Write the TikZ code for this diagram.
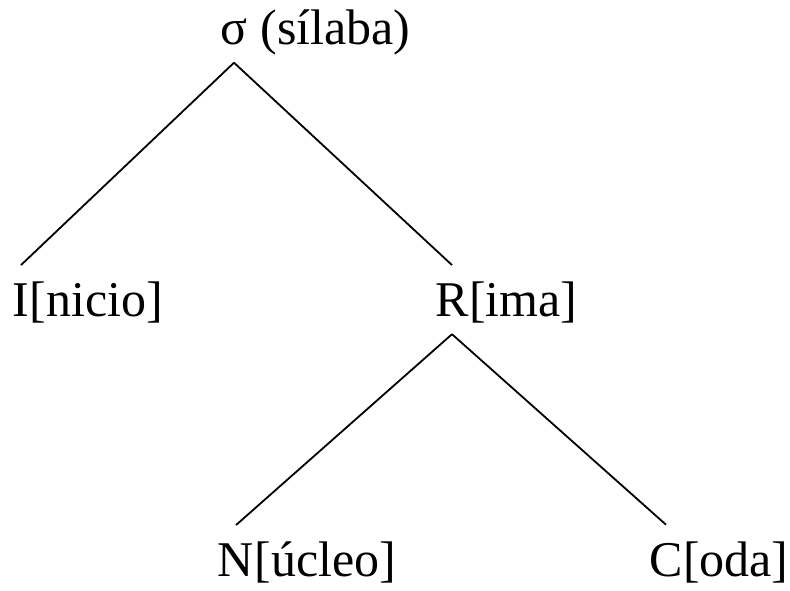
\documentclass[tikz,border=0pt]{standalone}
\usepackage{fontspec}
\setmainfont{Liberation Serif}
\usetikzlibrary{positioning}

\begin{document}
\begin{tikzpicture}[x=1pt,y=-1pt,node distance=0pt]
  \tikzstyle{head}=[inner xsep=0pt, inner ysep=18pt, anchor=base, font=\fontsize{50}{58}\selectfont]
  \tikzstyle{rest}=[inner sep=0pt, font=\fontsize{50}{58}\selectfont]
  \tikzstyle{branch}=[line width=1.8pt]
  \useasboundingbox (0,0) rectangle (790,590);

  \node[head] (sigma) at (234,44) {σ};
  \node[rest] (sigmaT) [base right=0pt of sigma] {\ (sílaba)};
  \node[head] (inicio) at (21,316) {I};
  \node[rest] (inicioT) [base right=0pt of inicio] {[nicio]};
  \node[head] (rima) at (452,316) {R};
  \node[rest] (rimaT) [base right=0pt of rima] {[ima]};
  \node[head] (nucleo) at (236,576) {N};
  \node[rest] (nucleoT) [base right=0pt of nucleo] {[úcleo]};
  \node[head] (coda) at (666,576) {C};
  \node[rest] (codaT) [base right=0pt of coda] {[oda]};

  \draw[branch] (sigma.south) -- (inicio.north);
  \draw[branch] (sigma.south) -- (rima.north);
  \draw[branch] (rima.south) -- (nucleo.north);
  \draw[branch] (rima.south) -- (coda.north);
\end{tikzpicture}
\end{document}
